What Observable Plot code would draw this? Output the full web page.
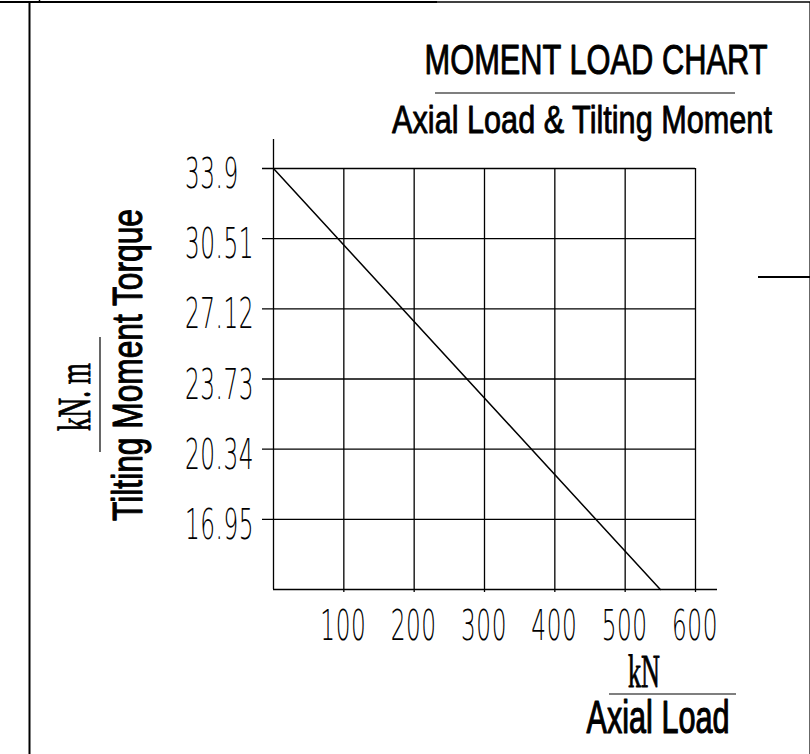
<!DOCTYPE html>
<html>
<head>
<meta charset="utf-8">
<script src="https://cdn.jsdelivr.net/npm/d3@7"></script>
<script src="https://cdn.jsdelivr.net/npm/@observablehq/plot@0.6"></script>
<style>
  html, body { margin: 0; padding: 0; background: #fff; }
  svg { display: block; }
</style>
</head>
<body>
<div id="chart"></div>
<script>
// ---- data ----
const axialLoad = [0, 550];            // kN
const tiltingMoment = [33.9, 13.56];   // kN·m
const xTicks = [100, 200, 300, 400, 500, 600];
const yTicks = [16.95, 20.34, 23.73, 27.12, 30.51, 33.9];
const yTickLabels = ["16.95", "20.34", "23.73", "27.12", "30.51", "33.9"];
const xTickLabels = ["100", "200", "300", "400", "500", "600"];
const yMin = 13.56;
const xMax = 600;

const points = axialLoad.map((x, i) => ({load: x, moment: tiltingMoment[i]}));

const sw = 1.3;

const plot = Plot.plot({
  width: 810,
  height: 754,
  marginLeft: 273,
  marginRight: 115,
  marginTop: 168,
  marginBottom: 165,
  style: {background: "white", color: "black", overflow: "visible"},
  x: {domain: [0, xMax], label: null, axis: null},
  y: {domain: [yMin, 33.9], label: null, axis: null},
  marks: [
    Plot.ruleY(yTicks, {x1: 0, x2: xMax, insetLeft: -11, stroke: "black", strokeWidth: sw}),
    Plot.ruleX(xTicks, {y1: 33.9, y2: yMin, insetBottom: -3, stroke: "black", strokeWidth: sw}),
    Plot.ruleX([0], {y1: 33.9, y2: yMin, insetTop: -29, stroke: "black", strokeWidth: sw}),
    Plot.ruleY([yMin], {x1: 0, x2: xMax, insetRight: -22, stroke: "black", strokeWidth: sw}),
    Plot.line(points, {x: "load", y: "moment", stroke: "black", strokeWidth: 1.5})
  ]
});

document.getElementById("chart").appendChild(plot);

const svg = d3.select(plot);
const sx = plot.scale("x");
const sy = plot.scale("y");
const ann = svg.append("g").attr("fill", "black");

function label(txt, x, y, opts) {
  const o = Object.assign({size: 42, family: "'Liberation Sans'", weight: 400, len: null, rotate: 0, anchor: "middle", scaleX: 1, spacing: 0}, opts);
  const t = ann.append("text")
    .attr("text-anchor", o.anchor)
    .attr("font-family", o.family)
    .attr("font-size", o.size)
    .attr("font-weight", o.weight)
    .attr("letter-spacing", o.spacing)
    .text(txt);
  let s = o.scaleX;
  if (o.len) {
    const natural = t.node().getComputedTextLength();
    if (natural > 0) s = o.len / natural;
  }
  t.attr("transform", `translate(${x},${y}) rotate(${o.rotate}) scale(${s},1)`);
  if (o.stroke) t.attr("stroke", "black").attr("stroke-width", o.stroke / s).attr("stroke-linejoin", "round");
  return t;
}
function hline(x1, x2, y, w) {
  ann.append("line").attr("x1", x1).attr("x2", x2).attr("y1", y).attr("y2", y)
    .attr("stroke", "black").attr("stroke-width", w || 1.3);
}
function vline(x, y1, y2, w) {
  ann.append("line").attr("x1", x).attr("x2", x).attr("y1", y1).attr("y2", y2)
    .attr("stroke", "black").attr("stroke-width", w || 1.3);
}

// tick labels (thin, narrow CAD-like digits), positioned through the plot's scales
const tickFont = {size: 43, family: "'DejaVu Sans'", weight: 200, scaleX: 0.54, spacing: 1};
yTicks.forEach((v, i) => {
  label(yTickLabels[i], sx.apply(0) - 88, sy.apply(v) + 20, Object.assign({anchor: "start"}, tickFont));
});
xTicks.forEach((v, i) => {
  label(xTickLabels[i], sx.apply(v), sy.apply(yMin) + 51, Object.assign({anchor: "middle"}, tickFont));
});

// titles
label("MOMENT LOAD CHART", 596, 74, {size: 42, len: 343, stroke: 0.7});
hline(435, 735, 93, 1.2);
label("Axial Load & Tilting Moment", 582, 133, {size: 39, len: 380, stroke: 0.7});

// x-axis title
label("kN", 644, 687, {size: 46, family: "'Liberation Serif'", len: 32, stroke: 0.5});
hline(609, 736, 694, 1.2);
label("Axial Load", 658, 733, {size: 46, len: 143, stroke: 0.8});

// y-axis title
label("Tilting Moment Torque", 142, 365, {size: 42, len: 312, rotate: -90, stroke: 0.8});
label("kN. m", 90, 397, {size: 46, family: "'Liberation Serif'", len: 68, rotate: -90, stroke: 0.5});
vline(100, 337, 452, 1.2);

// frame
hline(0, 437, 2, 2.2);
hline(437, 810, 2, 1.6);
vline(29.5, 2, 754, 2);
vline(39.5, 0, 2, 1.5);
vline(809.5, 2, 754, 0.6);
hline(758, 810, 277, 2.2);
</script>
</body>
</html>
